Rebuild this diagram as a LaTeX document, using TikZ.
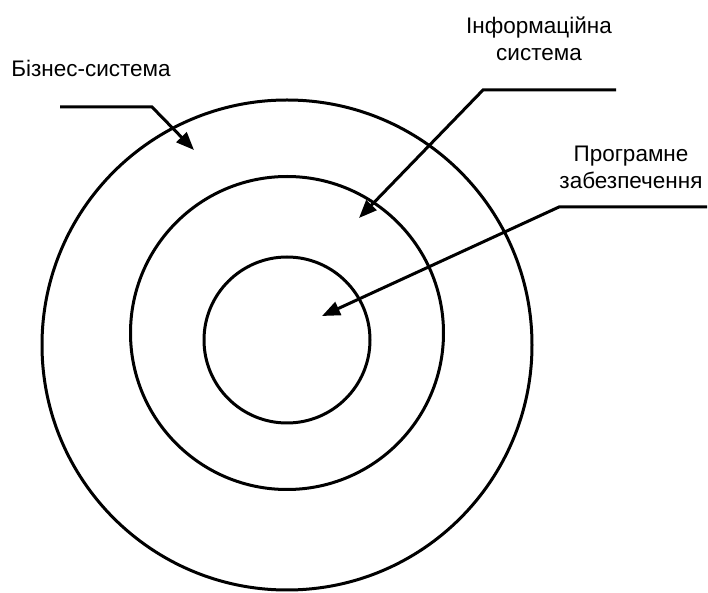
\documentclass[tikz,border=0pt]{standalone}
\usepackage{fontspec}
\setmainfont{Liberation Sans}
\usetikzlibrary{arrows.meta}

\begin{document}
\begin{tikzpicture}[x=0.5pt, y=-0.5pt, every node/.style={font=\fontsize{11.25}{13.5}\selectfont}, >={Triangle[length=9pt, width=7pt]}, ring/.style={draw, circle, line width=1.5pt, inner sep=0pt}, lead/.style={line width=1.5pt, ->}, lbl/.style={align=center, inner sep=0pt}]
	\useasboundingbox (0,0) rectangle (708,593);
	\node[ring, minimum size=245pt] (bs) at (287,345) {};
	\node[ring, minimum size=156.5pt] (is) at (287,333) {};
	\node[ring, minimum size=83pt] (pz) at (287,340) {};
	\node[lbl] (bsl) at (91,68) {Бізнес-система};
	\node[lbl] (isl) at (539,39) {Інформаційна\\система};
	\node[lbl] (pzl) at (631,167) {Програмне\\забезпечення};
	\coordinate (bsa) at (60,107);
	\coordinate (bsb) at (152,107);
	\coordinate (bst) at (194,150);
	\coordinate (isa) at (616,90);
	\coordinate (isb) at (483,90);
	\coordinate (ist) at (359,218);
	\coordinate (pza) at (707,207);
	\coordinate (pzb) at (559,207);
	\coordinate (pzt) at (322,316);
	\draw[lead] (bsa) -- (bsb) -- (bst);
	\draw[lead] (isa) -- (isb) -- (ist);
	\draw[lead] (pza) -- (pzb) -- (pzt);
\end{tikzpicture}
\end{document}
